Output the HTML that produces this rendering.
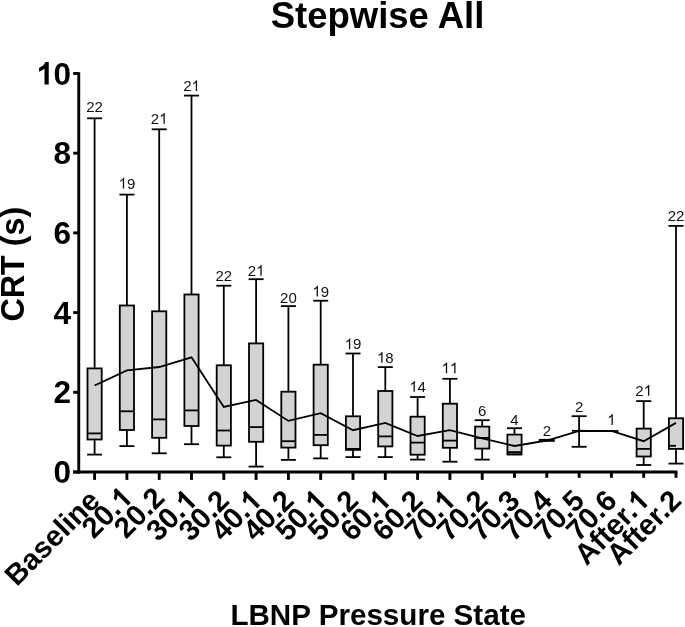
<!DOCTYPE html>
<html><head><meta charset="utf-8"><style>
html,body{margin:0;padding:0;background:#fff;}
body{width:685px;height:627px;overflow:hidden;}
svg{display:block;will-change:transform;}
text{font-family:"Liberation Sans",sans-serif;}
</style></head><body>
<svg width="685" height="627" viewBox="0 0 685 627">
<rect width="685" height="627" fill="#fff"/>
<text x="377.5" y="27.6" font-size="36.5" font-weight="bold" text-anchor="middle">Stepwise All</text>
<g stroke="#000" stroke-width="1.8">
<line x1="94.60" y1="118.3" x2="94.60" y2="368.4"/>
<line x1="94.60" y1="439.5" x2="94.60" y2="454.6"/>
<line x1="87.10" y1="118.3" x2="102.10" y2="118.3"/>
<line x1="87.10" y1="454.6" x2="102.10" y2="454.6"/>
<rect x="87.50" y="368.4" width="14.2" height="71.10" fill="#d3d3d3"/>
<line x1="87.50" y1="433.4" x2="101.70" y2="433.4"/>
<line x1="126.90" y1="194.6" x2="126.90" y2="305.5"/>
<line x1="126.90" y1="430.0" x2="126.90" y2="446.1"/>
<line x1="119.40" y1="194.6" x2="134.40" y2="194.6"/>
<line x1="119.40" y1="446.1" x2="134.40" y2="446.1"/>
<rect x="119.80" y="305.5" width="14.2" height="124.50" fill="#d3d3d3"/>
<line x1="119.80" y1="411.3" x2="134.00" y2="411.3"/>
<line x1="159.20" y1="129.3" x2="159.20" y2="311.3"/>
<line x1="159.20" y1="437.8" x2="159.20" y2="453.3"/>
<line x1="151.70" y1="129.3" x2="166.70" y2="129.3"/>
<line x1="151.70" y1="453.3" x2="166.70" y2="453.3"/>
<rect x="152.10" y="311.3" width="14.2" height="126.50" fill="#d3d3d3"/>
<line x1="152.10" y1="419.4" x2="166.30" y2="419.4"/>
<line x1="191.50" y1="95.6" x2="191.50" y2="294.5"/>
<line x1="191.50" y1="426.0" x2="191.50" y2="444.2"/>
<line x1="184.00" y1="95.6" x2="199.00" y2="95.6"/>
<line x1="184.00" y1="444.2" x2="199.00" y2="444.2"/>
<rect x="184.40" y="294.5" width="14.2" height="131.50" fill="#d3d3d3"/>
<line x1="184.40" y1="410.4" x2="198.60" y2="410.4"/>
<line x1="223.80" y1="285.7" x2="223.80" y2="365.3"/>
<line x1="223.80" y1="445.6" x2="223.80" y2="457.3"/>
<line x1="216.30" y1="285.7" x2="231.30" y2="285.7"/>
<line x1="216.30" y1="457.3" x2="231.30" y2="457.3"/>
<rect x="216.70" y="365.3" width="14.2" height="80.30" fill="#d3d3d3"/>
<line x1="216.70" y1="430.5" x2="230.90" y2="430.5"/>
<line x1="256.10" y1="279.2" x2="256.10" y2="343.4"/>
<line x1="256.10" y1="441.8" x2="256.10" y2="466.6"/>
<line x1="248.60" y1="279.2" x2="263.60" y2="279.2"/>
<line x1="248.60" y1="466.6" x2="263.60" y2="466.6"/>
<rect x="249.00" y="343.4" width="14.2" height="98.40" fill="#d3d3d3"/>
<line x1="249.00" y1="427.1" x2="263.20" y2="427.1"/>
<line x1="288.40" y1="306.1" x2="288.40" y2="391.7"/>
<line x1="288.40" y1="447.6" x2="288.40" y2="459.9"/>
<line x1="280.90" y1="306.1" x2="295.90" y2="306.1"/>
<line x1="280.90" y1="459.9" x2="295.90" y2="459.9"/>
<rect x="281.30" y="391.7" width="14.2" height="55.90" fill="#d3d3d3"/>
<line x1="281.30" y1="441.2" x2="295.50" y2="441.2"/>
<line x1="320.70" y1="300.7" x2="320.70" y2="364.7"/>
<line x1="320.70" y1="445.2" x2="320.70" y2="458.4"/>
<line x1="313.20" y1="300.7" x2="328.20" y2="300.7"/>
<line x1="313.20" y1="458.4" x2="328.20" y2="458.4"/>
<rect x="313.60" y="364.7" width="14.2" height="80.50" fill="#d3d3d3"/>
<line x1="313.60" y1="434.9" x2="327.80" y2="434.9"/>
<line x1="353.00" y1="353.5" x2="353.00" y2="416.3"/>
<line x1="353.00" y1="449.9" x2="353.00" y2="457.1"/>
<line x1="345.50" y1="353.5" x2="360.50" y2="353.5"/>
<line x1="345.50" y1="457.1" x2="360.50" y2="457.1"/>
<rect x="345.90" y="416.3" width="14.2" height="33.60" fill="#d3d3d3"/>
<line x1="345.90" y1="448.9" x2="360.10" y2="448.9"/>
<line x1="385.30" y1="367.1" x2="385.30" y2="391.0"/>
<line x1="385.30" y1="446.4" x2="385.30" y2="457.1"/>
<line x1="377.80" y1="367.1" x2="392.80" y2="367.1"/>
<line x1="377.80" y1="457.1" x2="392.80" y2="457.1"/>
<rect x="378.20" y="391.0" width="14.2" height="55.40" fill="#d3d3d3"/>
<line x1="378.20" y1="436.4" x2="392.40" y2="436.4"/>
<line x1="417.60" y1="397.0" x2="417.60" y2="416.7"/>
<line x1="417.60" y1="454.7" x2="417.60" y2="459.6"/>
<line x1="410.10" y1="397.0" x2="425.10" y2="397.0"/>
<line x1="410.10" y1="459.6" x2="425.10" y2="459.6"/>
<rect x="410.50" y="416.7" width="14.2" height="38.00" fill="#d3d3d3"/>
<line x1="410.50" y1="442.6" x2="424.70" y2="442.6"/>
<line x1="449.90" y1="378.8" x2="449.90" y2="403.7"/>
<line x1="449.90" y1="447.8" x2="449.90" y2="461.7"/>
<line x1="442.40" y1="378.8" x2="457.40" y2="378.8"/>
<line x1="442.40" y1="461.7" x2="457.40" y2="461.7"/>
<rect x="442.80" y="403.7" width="14.2" height="44.10" fill="#d3d3d3"/>
<line x1="442.80" y1="440.6" x2="457.00" y2="440.6"/>
<line x1="482.20" y1="420.2" x2="482.20" y2="426.6"/>
<line x1="482.20" y1="448.6" x2="482.20" y2="459.6"/>
<line x1="474.70" y1="420.2" x2="489.70" y2="420.2"/>
<line x1="474.70" y1="459.6" x2="489.70" y2="459.6"/>
<rect x="475.10" y="426.6" width="14.2" height="22.00" fill="#d3d3d3"/>
<line x1="475.10" y1="437.9" x2="489.30" y2="437.9"/>
<line x1="514.50" y1="428.2" x2="514.50" y2="434.6"/>
<line x1="514.50" y1="454.2" x2="514.50" y2="454.5"/>
<line x1="507.00" y1="428.2" x2="522.00" y2="428.2"/>
<line x1="507.00" y1="454.5" x2="522.00" y2="454.5"/>
<rect x="507.40" y="434.6" width="14.2" height="19.60" fill="#d3d3d3"/>
<line x1="507.40" y1="452.1" x2="521.60" y2="452.1"/>
<rect x="539.70" y="439.8" width="14.2" height="1.1" fill="#000"/>
<line x1="579.10" y1="416.2" x2="579.10" y2="446.8"/>
<line x1="571.60" y1="416.2" x2="586.60" y2="416.2"/>
<line x1="571.60" y1="446.8" x2="586.60" y2="446.8"/>
<line x1="572.00" y1="430.8" x2="586.20" y2="430.8"/>
<line x1="604.30" y1="431.0" x2="618.50" y2="431.0"/>
<line x1="643.70" y1="401.1" x2="643.70" y2="428.6"/>
<line x1="643.70" y1="456.5" x2="643.70" y2="465.0"/>
<line x1="636.20" y1="401.1" x2="651.20" y2="401.1"/>
<line x1="636.20" y1="465.0" x2="651.20" y2="465.0"/>
<rect x="636.60" y="428.6" width="14.2" height="27.90" fill="#d3d3d3"/>
<line x1="636.60" y1="448.9" x2="650.80" y2="448.9"/>
<line x1="676.00" y1="225.9" x2="676.00" y2="418.3"/>
<line x1="676.00" y1="448.9" x2="676.00" y2="463.6"/>
<line x1="668.50" y1="225.9" x2="683.50" y2="225.9"/>
<line x1="668.50" y1="463.6" x2="683.50" y2="463.6"/>
<rect x="668.90" y="418.3" width="14.2" height="30.60" fill="#d3d3d3"/>
<line x1="668.90" y1="445.8" x2="676.00" y2="445.8"/>
<polyline points="94.60,385.5 126.90,370.4 159.20,367.0 191.50,357.3 223.80,407.0 256.10,399.9 288.40,420.9 320.70,413.1 353.00,430.2 385.30,422.9 417.60,436.0 449.90,430.2 482.20,438.3 514.50,446.0 546.80,440.5 579.10,430.8 611.40,431.0 643.70,441.2 676.00,422.9" fill="none"/>
</g>
<g fill="#111">
<g transform="translate(94.60,111.8)"><text x="0" y="0" font-size="15.0" text-anchor="middle">22</text></g>
<g transform="translate(126.90,188.5)"><path transform="translate(-8.342,0) scale(0.007324,-0.007324)" d="M763 0H583V1147Q518 1085 412 1023T223 930V1104Q374 1175 487 1276T647 1472H763V0Z"/><text x="8.342" y="0" font-size="15.0" text-anchor="end">9</text></g>
<g transform="translate(159.20,123.7)"><text x="0.000" y="0" font-size="15.0" text-anchor="end">2</text><path transform="translate(0.000,0) scale(0.007324,-0.007324)" d="M763 0H583V1147Q518 1085 412 1023T223 930V1104Q374 1175 487 1276T647 1472H763V0Z"/></g>
<g transform="translate(191.50,91.1)"><text x="0.000" y="0" font-size="15.0" text-anchor="end">2</text><path transform="translate(0.000,0) scale(0.007324,-0.007324)" d="M763 0H583V1147Q518 1085 412 1023T223 930V1104Q374 1175 487 1276T647 1472H763V0Z"/></g>
<g transform="translate(223.80,280.6)"><text x="0" y="0" font-size="15.0" text-anchor="middle">22</text></g>
<g transform="translate(256.10,275.8)"><text x="0.000" y="0" font-size="15.0" text-anchor="end">2</text><path transform="translate(0.000,0) scale(0.007324,-0.007324)" d="M763 0H583V1147Q518 1085 412 1023T223 930V1104Q374 1175 487 1276T647 1472H763V0Z"/></g>
<g transform="translate(288.40,302.5)"><text x="0" y="0" font-size="15.0" text-anchor="middle">20</text></g>
<g transform="translate(320.70,296.6)"><path transform="translate(-8.342,0) scale(0.007324,-0.007324)" d="M763 0H583V1147Q518 1085 412 1023T223 930V1104Q374 1175 487 1276T647 1472H763V0Z"/><text x="8.342" y="0" font-size="15.0" text-anchor="end">9</text></g>
<g transform="translate(353.00,349.3)"><path transform="translate(-8.342,0) scale(0.007324,-0.007324)" d="M763 0H583V1147Q518 1085 412 1023T223 930V1104Q374 1175 487 1276T647 1472H763V0Z"/><text x="8.342" y="0" font-size="15.0" text-anchor="end">9</text></g>
<g transform="translate(385.30,362.8)"><path transform="translate(-8.342,0) scale(0.007324,-0.007324)" d="M763 0H583V1147Q518 1085 412 1023T223 930V1104Q374 1175 487 1276T647 1472H763V0Z"/><text x="8.342" y="0" font-size="15.0" text-anchor="end">8</text></g>
<g transform="translate(417.60,391.8)"><path transform="translate(-8.342,0) scale(0.007324,-0.007324)" d="M763 0H583V1147Q518 1085 412 1023T223 930V1104Q374 1175 487 1276T647 1472H763V0Z"/><text x="8.342" y="0" font-size="15.0" text-anchor="end">4</text></g>
<g transform="translate(449.90,373.2)"><path transform="translate(-8.342,0) scale(0.007324,-0.007324)" d="M763 0H583V1147Q518 1085 412 1023T223 930V1104Q374 1175 487 1276T647 1472H763V0Z"/><path transform="translate(0.000,0) scale(0.007324,-0.007324)" d="M763 0H583V1147Q518 1085 412 1023T223 930V1104Q374 1175 487 1276T647 1472H763V0Z"/></g>
<g transform="translate(482.20,415.7)"><text x="0" y="0" font-size="15.0" text-anchor="middle">6</text></g>
<g transform="translate(514.50,424.9)"><text x="0" y="0" font-size="15.0" text-anchor="middle">4</text></g>
<g transform="translate(546.80,435.9)"><text x="0" y="0" font-size="15.0" text-anchor="middle">2</text></g>
<g transform="translate(579.10,411.8)"><text x="0" y="0" font-size="15.0" text-anchor="middle">2</text></g>
<g transform="translate(611.40,424.9)"><path transform="translate(-4.171,0) scale(0.007324,-0.007324)" d="M763 0H583V1147Q518 1085 412 1023T223 930V1104Q374 1175 487 1276T647 1472H763V0Z"/></g>
<g transform="translate(643.70,395.7)"><text x="0.000" y="0" font-size="15.0" text-anchor="end">2</text><path transform="translate(0.000,0) scale(0.007324,-0.007324)" d="M763 0H583V1147Q518 1085 412 1023T223 930V1104Q374 1175 487 1276T647 1472H763V0Z"/></g>
<g transform="translate(676.00,221.0)"><text x="0" y="0" font-size="15.0" text-anchor="middle">22</text></g>
</g>
<g stroke="#000" stroke-width="2.9">
<line x1="78.75" y1="72.3" x2="78.75" y2="473.5"/>
<line x1="73.2" y1="472" x2="677.5" y2="472"/>
<line x1="73.2" y1="472.00" x2="78.75" y2="472.00"/>
<line x1="73.2" y1="392.30" x2="78.75" y2="392.30"/>
<line x1="73.2" y1="312.60" x2="78.75" y2="312.60"/>
<line x1="73.2" y1="232.90" x2="78.75" y2="232.90"/>
<line x1="73.2" y1="153.20" x2="78.75" y2="153.20"/>
<line x1="73.2" y1="73.50" x2="78.75" y2="73.50"/>
<line x1="94.60" y1="472" x2="94.60" y2="479.9"/>
<line x1="126.90" y1="472" x2="126.90" y2="479.9"/>
<line x1="159.20" y1="472" x2="159.20" y2="479.9"/>
<line x1="191.50" y1="472" x2="191.50" y2="479.9"/>
<line x1="223.80" y1="472" x2="223.80" y2="479.9"/>
<line x1="256.10" y1="472" x2="256.10" y2="479.9"/>
<line x1="288.40" y1="472" x2="288.40" y2="479.9"/>
<line x1="320.70" y1="472" x2="320.70" y2="479.9"/>
<line x1="353.00" y1="472" x2="353.00" y2="479.9"/>
<line x1="385.30" y1="472" x2="385.30" y2="479.9"/>
<line x1="417.60" y1="472" x2="417.60" y2="479.9"/>
<line x1="449.90" y1="472" x2="449.90" y2="479.9"/>
<line x1="482.20" y1="472" x2="482.20" y2="479.9"/>
<line x1="514.50" y1="472" x2="514.50" y2="477.8"/>
<line x1="546.80" y1="472" x2="546.80" y2="477.8"/>
<line x1="579.10" y1="472" x2="579.10" y2="477.8"/>
<line x1="611.40" y1="472" x2="611.40" y2="477.8"/>
<line x1="643.70" y1="472" x2="643.70" y2="477.8"/>
<line x1="676.00" y1="472" x2="676.00" y2="477.8"/>
</g>
<g>
<g transform="translate(71,483.00)"><text x="0" y="0" font-size="31.5" font-weight="bold" text-anchor="end">0</text></g>
<g transform="translate(71,403.30)"><text x="0" y="0" font-size="31.5" font-weight="bold" text-anchor="end">2</text></g>
<g transform="translate(71,323.60)"><text x="0" y="0" font-size="31.5" font-weight="bold" text-anchor="end">4</text></g>
<g transform="translate(71,243.90)"><text x="0" y="0" font-size="31.5" font-weight="bold" text-anchor="end">6</text></g>
<g transform="translate(71,164.20)"><text x="0" y="0" font-size="31.5" font-weight="bold" text-anchor="end">8</text></g>
<g transform="translate(71,84.50)"><path transform="translate(-35.038,0) scale(0.015381,-0.015381)" d="M831 0H556V1037Q405 896 200 829V1079Q308 1114 435 1213T609 1466H831V0Z"/><text x="0.000" y="0" font-size="31.5" font-weight="bold" text-anchor="end">0</text></g>
</g>
<text transform="translate(24.3,264.2) rotate(-90)" font-size="32.3" font-weight="bold" text-anchor="middle">CRT (s)</text>
<g>
<g transform="translate(101.60,502.3) rotate(-45)"><text x="0" y="0" font-size="29.2" font-weight="bold" text-anchor="end">Baseline</text></g>
<g transform="translate(133.90,499.6) rotate(-45)"><text x="-16.240" y="0" font-size="29.2" font-weight="bold" text-anchor="end">20.</text><path transform="translate(-16.240,0) scale(0.014258,-0.014258)" d="M831 0H556V1037Q405 896 200 829V1079Q308 1114 435 1213T609 1466H831V0Z"/></g>
<g transform="translate(166.20,499.6) rotate(-45)"><text x="0" y="0" font-size="29.2" font-weight="bold" text-anchor="end">20.2</text></g>
<g transform="translate(198.50,502.3) rotate(-45)"><text x="-16.240" y="0" font-size="29.2" font-weight="bold" text-anchor="end">30.</text><path transform="translate(-16.240,0) scale(0.014258,-0.014258)" d="M831 0H556V1037Q405 896 200 829V1079Q308 1114 435 1213T609 1466H831V0Z"/></g>
<g transform="translate(230.80,502.3) rotate(-45)"><text x="0" y="0" font-size="29.2" font-weight="bold" text-anchor="end">30.2</text></g>
<g transform="translate(263.10,502.3) rotate(-45)"><text x="-16.240" y="0" font-size="29.2" font-weight="bold" text-anchor="end">40.</text><path transform="translate(-16.240,0) scale(0.014258,-0.014258)" d="M831 0H556V1037Q405 896 200 829V1079Q308 1114 435 1213T609 1466H831V0Z"/></g>
<g transform="translate(295.40,502.3) rotate(-45)"><text x="0" y="0" font-size="29.2" font-weight="bold" text-anchor="end">40.2</text></g>
<g transform="translate(327.70,502.3) rotate(-45)"><text x="-16.240" y="0" font-size="29.2" font-weight="bold" text-anchor="end">50.</text><path transform="translate(-16.240,0) scale(0.014258,-0.014258)" d="M831 0H556V1037Q405 896 200 829V1079Q308 1114 435 1213T609 1466H831V0Z"/></g>
<g transform="translate(360.00,502.3) rotate(-45)"><text x="0" y="0" font-size="29.2" font-weight="bold" text-anchor="end">50.2</text></g>
<g transform="translate(392.30,502.3) rotate(-45)"><text x="-16.240" y="0" font-size="29.2" font-weight="bold" text-anchor="end">60.</text><path transform="translate(-16.240,0) scale(0.014258,-0.014258)" d="M831 0H556V1037Q405 896 200 829V1079Q308 1114 435 1213T609 1466H831V0Z"/></g>
<g transform="translate(424.60,502.3) rotate(-45)"><text x="0" y="0" font-size="29.2" font-weight="bold" text-anchor="end">60.2</text></g>
<g transform="translate(456.90,502.3) rotate(-45)"><text x="-16.240" y="0" font-size="29.2" font-weight="bold" text-anchor="end">70.</text><path transform="translate(-16.240,0) scale(0.014258,-0.014258)" d="M831 0H556V1037Q405 896 200 829V1079Q308 1114 435 1213T609 1466H831V0Z"/></g>
<g transform="translate(489.20,502.3) rotate(-45)"><text x="0" y="0" font-size="29.2" font-weight="bold" text-anchor="end">70.2</text></g>
<g transform="translate(521.50,502.3) rotate(-45)"><text x="0" y="0" font-size="29.2" font-weight="bold" text-anchor="end">70.3</text></g>
<g transform="translate(553.80,502.3) rotate(-45)"><text x="0" y="0" font-size="29.2" font-weight="bold" text-anchor="end">70.4</text></g>
<g transform="translate(586.10,502.3) rotate(-45)"><text x="0" y="0" font-size="29.2" font-weight="bold" text-anchor="end">70.5</text></g>
<g transform="translate(618.40,502.3) rotate(-45)"><text x="0" y="0" font-size="29.2" font-weight="bold" text-anchor="end">70.6</text></g>
<g transform="translate(650.70,502.3) rotate(-45)"><text x="-16.240" y="0" font-size="29.2" font-weight="bold" text-anchor="end">After.</text><path transform="translate(-16.240,0) scale(0.014258,-0.014258)" d="M831 0H556V1037Q405 896 200 829V1079Q308 1114 435 1213T609 1466H831V0Z"/></g>
<g transform="translate(683.00,502.3) rotate(-45)"><text x="0" y="0" font-size="29.2" font-weight="bold" text-anchor="end">After.2</text></g>
</g>
<text x="378.2" y="624.5" font-size="29.6" font-weight="bold" text-anchor="middle">LBNP Pressure State</text>
</svg>
</body></html>
